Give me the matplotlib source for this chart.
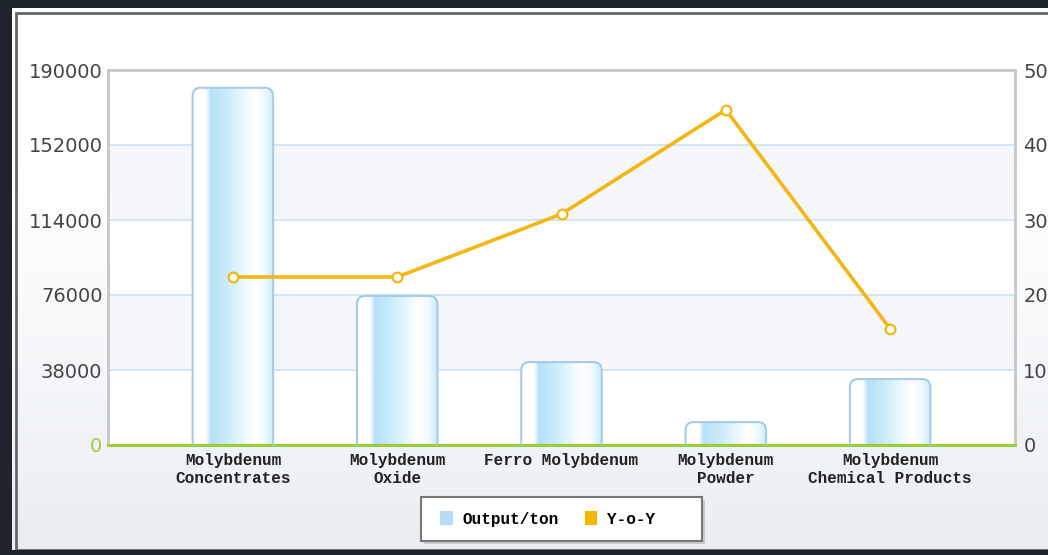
import numpy as np
import matplotlib
matplotlib.use("Agg")
import matplotlib.pyplot as plt
from matplotlib.patches import FancyBboxPatch, Rectangle, Patch

# data
categories = ["Molybdenum\nConcentrates", "Molybdenum\nOxide", "Ferro Molybdenum",
              "Molybdenum\nPowder", "Molybdenum\nChemical Products"]
output_ton = [181000, 75500, 42000, 11600, 33400]
yoy = [22.4, 22.4, 30.8, 44.7, 15.5]
left_ticks = [0, 38000, 76000, 114000, 152000, 190000]
right_ticks = [0, 10, 20, 30, 40, 50]

mono = "Liberation Mono"
blue_edge = "#a6cbe6"
gold = "#f4b614"
green = "#9ccc3a"

fig = plt.figure(figsize=(10.48, 5.55), dpi=100)
fig.patch.set_facecolor("#1d242e")

# white panel, fading to light grey toward the bottom
panel = fig.add_axes([12 / 1048, 5 / 555, 1.0, 542 / 555], zorder=0)
grad = np.linspace(0, 1, 256).reshape(-1, 1)
cmap = matplotlib.colors.LinearSegmentedColormap.from_list(
    "bg", [(0, "#ffffff"), (0.3, "#ffffff"), (0.7, "#f4f6f9"), (1, "#e9edf2")])
panel.imshow(grad, aspect="auto", cmap=cmap, extent=[0, 1, 0, 1], origin="upper")
panel.set_xlim(0, 1)
panel.set_ylim(0, 1)
panel.add_patch(Rectangle((0.004, 0.0), 1.0, 0.99, fill=False, ec="#666666", lw=2))
panel.axis("off")

ax = fig.add_axes([108 / 1048, 110 / 555, 907 / 1048, 375 / 555], zorder=2)
ax.set_facecolor("white")
x = np.arange(len(categories))

# alternating light bands
for i in range(len(left_ticks) - 1):
    if i % 2 == 1:
        ax.axhspan(left_ticks[i], left_ticks[i + 1], color="#f6f7fb", zorder=0, lw=0)
for t in left_ticks[1:-1]:
    ax.axhline(t, color="#c9e3f1", lw=1.2, zorder=1)

bars = ax.bar(x, output_ton, width=0.49, color="none", edgecolor="none")

bar_cmap = matplotlib.colors.LinearSegmentedColormap.from_list(
    "bar", [(0, "#ffffff"), (0.16, "#ffffff"), (0.22, "#b6e0f8"),
            (0.45, "#cdeefb"), (0.75, "#ffffff"), (0.88, "#f2fbff"), (1, "#c6ebfa")])
hgrad = np.linspace(0, 1, 256).reshape(1, -1)
aspect = (190000 / 375) * (907 / (len(categories) + 0.52))
for r in bars:
    x0, w, h = r.get_x(), r.get_width(), r.get_height()
    patch = FancyBboxPatch((x0, -6000), w, h + 6000,
                           boxstyle="round,pad=0,rounding_size=0.05",
                           mutation_aspect=aspect, fc="none", ec=blue_edge,
                           lw=1.5, zorder=3)
    ax.add_patch(patch)
    im = ax.imshow(hgrad, aspect="auto", cmap=bar_cmap,
                   extent=[x0, x0 + w, -6000, h], zorder=2)
    im.set_clip_path(patch)

ax.set_xlim(-0.76, len(categories) - 1 + 0.76)
ax.set_ylim(0, 190000)
ax.set_yticks(left_ticks)
ax.set_yticklabels([str(t) for t in left_ticks], fontsize=14, color="#444444")
ax.get_yticklabels()[0].set_color(green)
ax.tick_params(axis="y", length=0, pad=4)
ax.set_xticks(x)
ax.set_xticklabels(categories, family=mono, fontsize=11.5, fontweight="bold",
                   color="#222222", linespacing=1.25)
ax.tick_params(axis="x", length=0, pad=6)
for s in ["top", "left", "right"]:
    ax.spines[s].set_color("#c6c6c6")
    ax.spines[s].set_linewidth(2)
ax.spines["bottom"].set_color(green)
ax.spines["bottom"].set_linewidth(2.2)

ax2 = ax.twinx()
ax2.plot(x, yoy, color=gold, lw=2.6, marker="o", ms=7, mfc="white",
         mec=gold, mew=1.6, zorder=5)
ax2.set_ylim(0, 50)
ax2.set_yticks(right_ticks)
ax2.set_yticklabels([str(t) for t in right_ticks], fontsize=14, color="#444444")
ax2.tick_params(axis="y", length=0, pad=6)
for s in ax2.spines.values():
    s.set_visible(False)

# legend box with shadow
fig.patches.append(Rectangle((424 / 1048, 11 / 555), 281 / 1048, 44 / 555,
                             transform=fig.transFigure, fc="#b0b4b8", ec="none",
                             zorder=3, alpha=0.6))
fig.patches.append(Rectangle((421 / 1048, 14 / 555), 281 / 1048, 44 / 555,
                             transform=fig.transFigure, fc="white", ec="#777777",
                             lw=1.5, zorder=3))
handles = [Patch(fc="#b8dcf8", ec="none"), Patch(fc="#f5b800", ec="none")]
leg = fig.legend(handles, ["Output/ton", "Y-o-Y"], loc="center left",
                 bbox_to_anchor=(426 / 1048, 36 / 555), ncol=2, frameon=False,
                 prop={"family": mono, "size": 11.5, "weight": "bold"},
                 handlelength=0.8, handleheight=1.0, handletextpad=0.6,
                 columnspacing=1.6)
leg.set_zorder(4)

fig.savefig("out.png", dpi=100, facecolor=fig.get_facecolor())
